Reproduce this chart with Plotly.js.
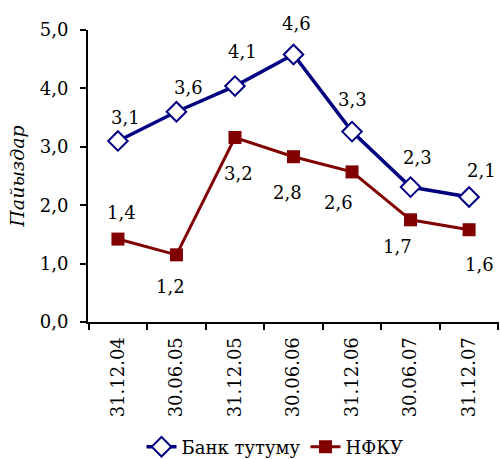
<!DOCTYPE html>
<html><head><meta charset="utf-8">
<script src="https://cdn.plot.ly/plotly-3.0.1.min.js"></script>
<style>html,body{margin:0;padding:0;background:#fff}</style>
</head><body>
<div id="chart" style="width:500px;height:459px"></div>
<script>
const categories = ["31.12.04","30.06.05","31.12.05","30.06.06","31.12.06","30.06.07","31.12.07"];
const bankValues = [3.10, 3.60, 4.04, 4.58, 3.26, 2.31, 2.14];
const bankLabels = ["3,1","3,6","4,1","4,6","3,3","2,3","2,1"];
const nfkuValues = [1.42, 1.15, 3.16, 2.83, 2.57, 1.75, 1.58];
const nfkuLabels = ["1,4","1,2","3,2","2,8","2,6","1,7","1,6"];
const seriesNames = ["Банк тутуму", "НФКУ"];
const yTitle = "Пайыздар";

// label offsets in pixels (style only)
const bankOffsets = [[8,23],[12,24],[8,35],[3,31],[0,32],[7,30],[12,27]];
const nfkuOffsets = [[4,27],[-6,-32],[4,-36],[-6,-36],[-14,-31],[-13,-27],[10,-35]];

const FONT = "DejaVu Serif";
const FS = 18;
const BLUE = "#000080", RED = "#800000";

const traces = [
  {x: categories, y: bankValues, name: seriesNames[0], type: "scatter", mode: "lines+markers",
   line: {color: BLUE, width: 3.5},
   marker: {symbol: "diamond", size: 15, color: "#ffffff", line: {color: BLUE, width: 2}}},
  {x: categories, y: nfkuValues, name: seriesNames[1], type: "scatter", mode: "lines+markers",
   line: {color: RED, width: 3},
   marker: {symbol: "square", size: 13, color: RED, line: {width: 0}}}
];

const annotations = [];
categories.forEach((c, i) => {
  annotations.push({x: c, y: bankValues[i], text: bankLabels[i], showarrow: false,
    xshift: bankOffsets[i][0], yshift: bankOffsets[i][1], font: {family: FONT, size: FS, color: "#000"}});
  annotations.push({x: c, y: nfkuValues[i], text: nfkuLabels[i], showarrow: false,
    xshift: nfkuOffsets[i][0], yshift: nfkuOffsets[i][1], font: {family: FONT, size: FS, color: "#000"}});
});

const layout = {
  width: 500, height: 459,
  margin: {l: 88, r: 1, t: 30, b: 137},
  paper_bgcolor: "#fff", plot_bgcolor: "#fff",
  separators: ", ",
  font: {family: FONT, size: FS, color: "#000"},
  showlegend: true,
  legend: {orientation: "h", xref: "container", yref: "container", x: 0.55, xanchor: "center",
           y: 0.026, yanchor: "middle", font: {family: FONT, size: FS, color: "#000"}},
  xaxis: {type: "category", showgrid: false, zeroline: false, showline: true, linecolor: "#000", linewidth: 2,
          ticks: "outside", ticklen: 6, tickwidth: 2, tickcolor: "#000", tickson: "boundaries",
          tickangle: -90, automargin: false, ticklabelstandoff: 6,
          tickfont: {family: FONT, size: FS, color: "#000"}},
  yaxis: {range: [0, 5], dtick: 1, tickformat: ".1f", showgrid: false, zeroline: false, showline: true,
          linecolor: "#000", linewidth: 2, ticks: "outside", ticklen: 6, tickwidth: 2, tickcolor: "#000",
          automargin: false, ticklabelstandoff: 8,
          tickfont: {family: FONT, size: FS, color: "#000"},
          title: {text: "<i>" + yTitle + "</i>", standoff: 10, font: {family: FONT, size: FS + 1, color: "#000"}}},
  annotations: annotations
};

Plotly.newPlot("chart", traces, layout, {displayModeBar: false, staticPlot: true});
</script>
</body></html>
